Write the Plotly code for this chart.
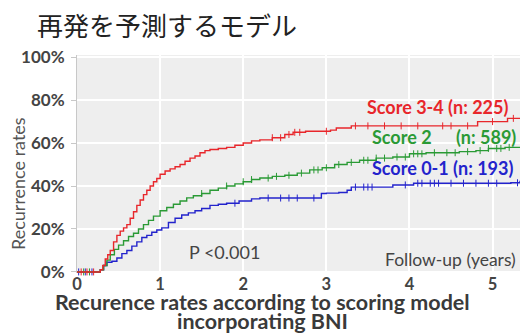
import plotly.graph_objects as go
import numpy as np

# Cumulative recurrence (%) by follow-up years, step curves per score group
red_t = [0, 0.28, 0.31, 0.34, 0.37, 0.40, 0.44, 0.48, 0.52, 0.56, 0.60, 0.64, 0.68, 0.72, 0.76, 0.80,
         0.84, 0.88, 0.92, 0.96, 1.00, 1.06, 1.12, 1.18, 1.24, 1.30, 1.36, 1.42, 1.48, 1.54, 1.60, 1.70,
         1.80, 1.90, 2.00, 2.10, 2.20, 2.35, 2.50, 2.60, 2.75, 2.90, 3.05, 3.12, 3.30, 4.82, 5.18, 5.33]
red_r = [0, 1, 3, 6, 8, 10, 14, 17, 19, 20.5, 22, 25, 28, 31, 33.5, 36,
         38, 40, 42, 43.5, 45.5, 47, 48, 49, 50, 51.5, 53, 54, 55.5, 56.5, 57, 57.5,
         58, 59, 60, 61, 61.5, 62.5, 64, 65, 65.5, 65.5, 66, 67, 68, 70, 71.5, 71.5]

green_t = [0, 0.28, 0.32, 0.36, 0.40, 0.45, 0.50, 0.56, 0.62, 0.68, 0.74, 0.80, 0.86, 0.92, 1.00, 1.08,
           1.16, 1.24, 1.32, 1.40, 1.50, 1.60, 1.70, 1.80, 1.90, 2.00, 2.10, 2.20, 2.35, 2.50, 2.65, 2.80,
           2.95, 3.10, 3.25, 3.40, 3.60, 3.80, 4.00, 4.20, 4.40, 4.60, 4.80, 4.95, 5.15, 5.33]
green_r = [0, 1, 3, 5.5, 8, 10.5, 12.5, 14.5, 16.5, 18, 20, 22, 24, 26, 28.5, 30,
           31.5, 33, 34.5, 35.5, 36.5, 38, 39, 40, 41, 42, 43, 43.7, 44.5, 45, 46, 47.5,
           48.5, 50, 51, 52, 53, 53.5, 55, 55.5, 55.5, 56, 56.5, 57.5, 58, 58]

blue_t = [0, 0.28, 0.32, 0.36, 0.42, 0.48, 0.54, 0.60, 0.66, 0.72, 0.78, 0.84, 0.90, 0.96, 1.02, 1.10,
          1.18, 1.26, 1.34, 1.42, 1.50, 1.60, 1.70, 1.80, 1.95, 2.10, 2.20, 2.40, 2.70, 2.94, 3.00, 3.15,
          3.25, 3.30, 3.75, 3.80, 4.05, 4.20, 5.22, 5.33]
blue_r = [0, 1, 3, 4.5, 5, 6.5, 8.5, 10, 12, 14, 16, 17, 18.5, 19.5, 20.5, 23,
          25, 26.5, 27.5, 28.5, 29.5, 31, 31.5, 32, 33, 34, 34.4, 34.4, 34.4, 36.5, 36.7, 37,
          38, 39.5, 39.5, 40.5, 41.3, 41.3, 41.5, 42.5]

# Censoring times per group
red_cens = [0.05, 0.12, 0.2, 2.35, 2.45, 2.55, 2.62, 2.68, 3.0, 3.35, 3.5, 3.7, 3.9, 4.1, 4.4, 4.5, 4.7, 5.0, 5.25]
green_cens = [0.08, 0.15, 1.5, 1.8, 2.0, 2.1, 2.3, 2.4, 2.55, 2.7, 2.85, 2.9, 3.0, 3.15, 3.3, 3.45, 3.5, 3.6,
              3.7, 3.85, 3.95, 4.05, 4.1, 4.15, 4.3, 4.45, 4.55, 4.7, 4.85, 4.95, 5.05, 5.1, 5.2]
blue_cens = [0.02, 0.1, 0.18, 1.9, 2.3, 2.45, 2.55, 2.65, 2.85, 3.35, 3.45, 3.5, 3.55, 3.95, 4.1, 4.15, 4.25,
             4.3, 4.35, 4.5, 4.65, 4.8, 4.95, 5.05, 5.3]

y_ticks = [0, 20, 40, 60, 80, 100]
x_ticks = [0, 1, 2, 3, 4, 5]

RED, GREEN, BLUE = "#e8262b", "#2a9a35", "#2323cc"
TEXT_FONT = "Lato, 'Open Sans', sans-serif"
GREY_TEXT = "#444444"

# plot-area geometry in pixels (used to place paper-referenced labels)
PX_L, PX_W, PX_B, PX_H = 77, 443, 273, 218


def step_at(ts, rs, t):
    idx = np.searchsorted(ts, t, side="right") - 1
    return rs[max(idx, 0)]


fig = go.Figure()
for ts, rs, cens, col in [(blue_t, blue_r, blue_cens, BLUE),
                          (green_t, green_r, green_cens, GREEN),
                          (red_t, red_r, red_cens, RED)]:
    fig.add_trace(go.Scatter(x=ts, y=rs, mode="lines", line=dict(color=col, width=1.4, shape="hv"),
                             hoverinfo="skip", showlegend=False))
    fig.add_trace(go.Scatter(x=cens, y=[step_at(ts, rs, c) for c in cens], mode="markers",
                             marker=dict(symbol="line-ns", size=5, line=dict(color=col, width=1)),
                             hoverinfo="skip", showlegend=False, cliponaxis=False))

ann_font = dict(family=TEXT_FONT, size=18)
annotations = [
    dict(x=5.21, y=76.7, text="<b>Score 3-4 (n: 225)</b>", xanchor="right", font=dict(ann_font, color=RED)),
    dict(x=3.53, y=62.8, text="<b>Score 2</b>", xanchor="left", font=dict(ann_font, color=GREEN)),
    dict(x=5.30, y=62.8, text="<b>(n: 589)</b>", xanchor="right", font=dict(ann_font, color=GREEN)),
    dict(x=3.53, y=48.4, text="<b>Score 0-1 (n: 193)</b>", xanchor="left", font=dict(ann_font, color=BLUE)),
    dict(x=1.32, y=9.3, text="P <0.001", xanchor="left", font=dict(family=TEXT_FONT, size=18, color=GREY_TEXT)),
    dict(x=5.31, y=5.6, text="Follow-up (years)", xanchor="right",
         font=dict(family=TEXT_FONT, size=17.5, color=GREY_TEXT)),
]
for a in annotations:
    a.update(xref="x", yref="y", yanchor="middle", showarrow=False)

# Axis titles
annotations += [
    dict(xref="paper", yref="paper", x=(18 - PX_L) / PX_W, y=(PX_B - 184) / PX_H, text="Recurrence rates",
         textangle=-90, showarrow=False, xanchor="center", yanchor="middle",
         font=dict(family=TEXT_FONT, size=18, color="#555555")),
    dict(xref="paper", yref="paper", x=(262 - PX_L) / PX_W, y=(PX_B - 302) / PX_H,
         text="<b>Recurence rates according to scoring model</b>",
         showarrow=False, xanchor="center", yanchor="middle",
         font=dict(family=TEXT_FONT, size=21.5, color="#3a3a3a")),
    dict(xref="paper", yref="paper", x=(262 - PX_L) / PX_W, y=(PX_B - 321) / PX_H,
         text="<b>incorporating BNI</b>",
         showarrow=False, xanchor="center", yanchor="middle",
         font=dict(family=TEXT_FONT, size=21.5, color="#3a3a3a")),
]

fig.update_layout(
    width=520, height=335,
    margin=dict(l=PX_L, r=0, t=55, b=335 - PX_B),
    paper_bgcolor="white", plot_bgcolor="#eeeeee",
    title=dict(text="再発を予測するモデル", x=37 / 520, xanchor="left", y=1 - 27 / 335, yanchor="middle",
               font=dict(family="Noto Sans CJK JP", size=26, color="#222222")),
    annotations=annotations,
    xaxis=dict(range=[0, 5.33], tickvals=x_ticks, ticktext=[f"<b>{v}</b>" for v in x_ticks],
               showgrid=True, gridcolor="white", gridwidth=1.5, zeroline=False, showline=False,
               ticks="", ticklabelstandoff=-1, tickfont=dict(family=TEXT_FONT, size=16.5, color=GREY_TEXT)),
    yaxis=dict(range=[-0.5, 101], tickvals=y_ticks, ticktext=[f"<b>{v}%</b>" for v in y_ticks],
               showgrid=True, gridcolor="white", gridwidth=1.5, zeroline=False,
               showline=True, linecolor="#c8c8c8", linewidth=1, ticks="outside", ticklen=5,
               tickcolor="#c8c8c8", ticklabelstandoff=3,
               tickfont=dict(family=TEXT_FONT, size=17, color=GREY_TEXT)),
)

fig.write_html("out.html")
